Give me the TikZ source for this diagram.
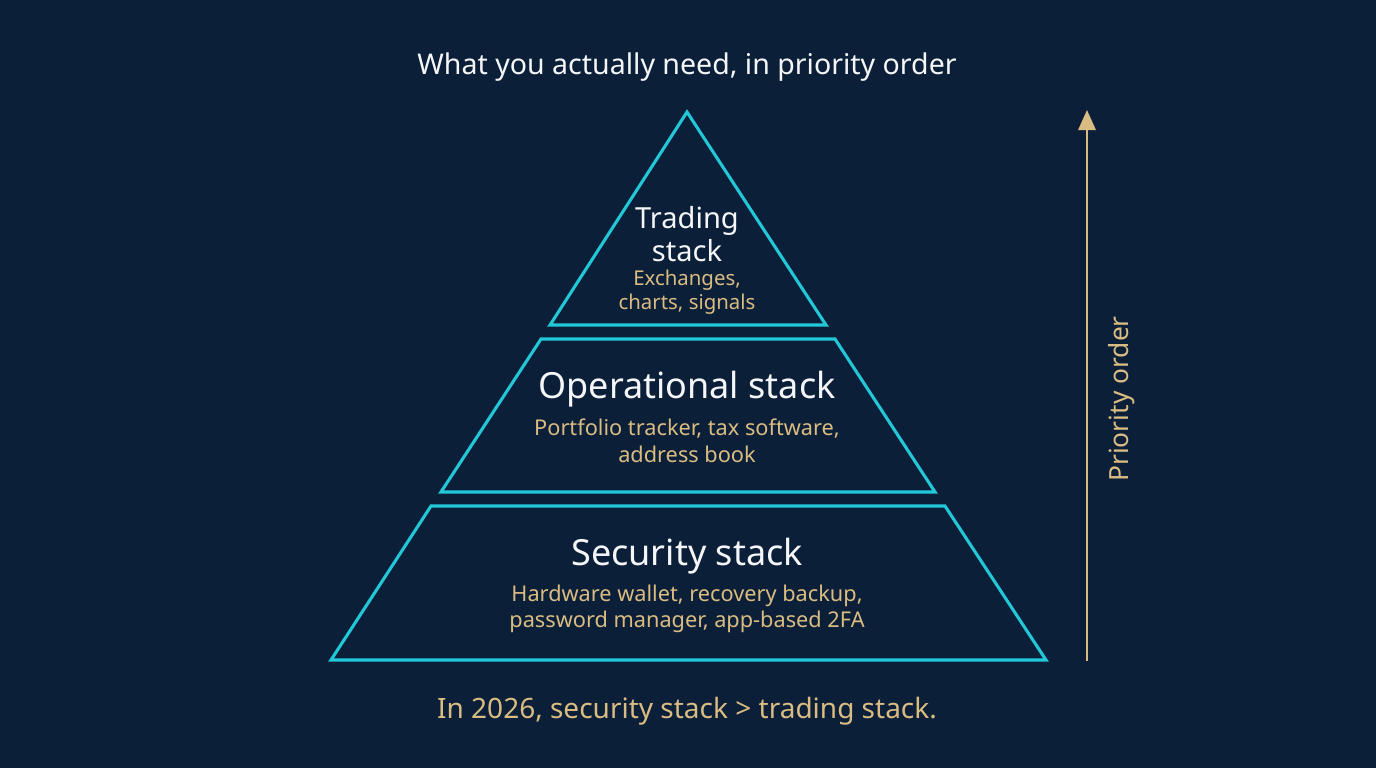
\documentclass[tikz,border=0pt]{standalone}
\usepackage{fontspec}
\setmainfont{Noto Sans}
\usetikzlibrary{arrows.meta}
\definecolor{bg}{HTML}{0C1F38}
\definecolor{cyanline}{HTML}{22C8D8}
\definecolor{gold}{HTML}{D9BC82}
\definecolor{wht}{HTML}{F4F6F8}
\tikzset{
  tier/.style={draw=cyanline, line width=2.3pt, line join=miter},
  head/.style={text=wht, align=center, inner sep=0pt},
  sub/.style={text=gold, align=center, inner sep=0pt},
}
\begin{document}
\begin{tikzpicture}[x=0.75pt,y=-0.75pt]
\fill[bg] (0,0) rectangle (1376,768);
\useasboundingbox (0,0) rectangle (1376,768);
% tiers
\coordinate (t1) at (687,112);
\coordinate (t2) at (826,325);
\coordinate (t3) at (550,325);
\draw[tier] (t1) -- (t2) -- (t3) -- cycle;
\coordinate (m1) at (541,339);
\coordinate (m2) at (835,339);
\coordinate (m3) at (935,492);
\coordinate (m4) at (441,492);
\draw[tier] (m1) -- (m2) -- (m3) -- (m4) -- cycle;
\coordinate (b1) at (431,506);
\coordinate (b2) at (945,506);
\coordinate (b3) at (1046,660);
\coordinate (b4) at (331,660);
\draw[tier] (b1) -- (b2) -- (b3) -- (b4) -- cycle;
% texts
\node[head, font=\fontsize{21.4}{25}\selectfont] (title) at (687,67) {What you actually need, in priority order};
\node[head, font=\fontsize{21.8}{25}\selectfont] (trad) at (687,234) {Trading\\stack};
\node[sub, font=\fontsize{15.3}{18}\selectfont] (tradsub) at (687,292) {Exchanges,\\charts, signals};
\node[head, font=\fontsize{27}{30}\selectfont] (oper) at (687,389) {Operational stack};
\node[sub, font=\fontsize{16.3}{20}\selectfont] (opersub) at (687,441) {Portfolio tracker, tax software,\\address book};
\node[head, font=\fontsize{27}{30}\selectfont] (sec) at (687,556) {Security stack};
\node[sub, font=\fontsize{16.3}{20}\selectfont] (secsub) at (687,609) {Hardware wallet, recovery backup,\\password manager, app-based 2FA};
\node[sub, font=\fontsize{21}{24}\selectfont] (foot) at (687,711) {In 2026, security stack > trading stack.};
% arrow
\coordinate (abot) at (1087,661);
\coordinate (atop) at (1087,110);
\draw[gold, line width=1.6pt, -{Triangle[length=15pt,width=13pt]}] (abot) -- (atop);
\node[sub, rotate=90, font=\fontsize{19.8}{22}\selectfont] (prio) at (1122,399) {Priority order};
\end{tikzpicture}
\end{document}
